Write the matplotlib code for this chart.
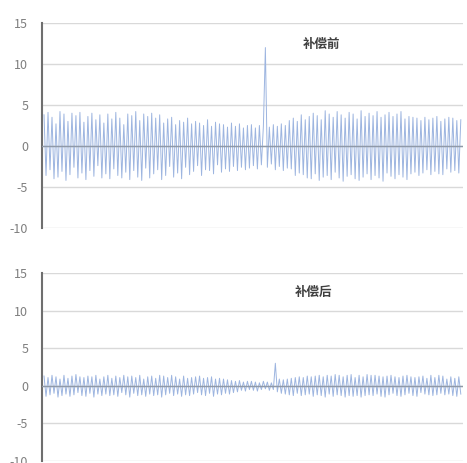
import numpy as np
import matplotlib
matplotlib.use('Agg')
import matplotlib.pyplot as plt

plt.rcParams['font.family'] = ['Noto Sans CJK SC', 'DejaVu Sans']
plt.rcParams['axes.unicode_minus'] = False

# signal before compensation
before = [
    3.8, -3.6, 4.1, -2.9, 3.5, -4.0, 2.7, -3.8, 4.2, -3.1, 3.9, -4.2, 3.0, -3.5, 4.0,
    -2.6, 3.7, -3.9, 4.1, -3.3, 2.9, -4.1, 3.6, -3.0, 4.0, -3.7, 3.2, -2.4, 3.8, -3.9,
    2.8, -3.4, 3.9, -4.0, 3.3, -2.8, 4.1, -3.6, 3.4, -3.9, 2.6, -3.2, 3.9, -4.1, 3.7,
    -3.0, 4.2, -3.8, 3.1, -4.2, 3.9, -2.7, 3.6, -3.9, 4.0, -3.4, 3.4, -2.9, 3.8, -4.1,
    2.8, -3.6, 3.3, -2.5, 3.5, -3.8, 2.6, -3.3, 3.1, -4.0, 2.9, -2.6, 3.4, -3.5, 2.7,
    -3.1, 3.0, -2.4, 2.8, -3.6, 2.5, -2.9, 3.2, -3.0, 2.4, -3.4, 2.9, -2.3, 2.7, -3.2,
    2.6, -2.8, 2.3, -3.1, 2.8, -2.5, 2.4, -3.0, 2.7, -2.6, 2.2, -2.9, 2.5, -2.7, 2.6,
    -2.4, 2.2, -2.8, 2.5, -2.3, 2.4, 12.0, -2.6, 2.3, -2.2, 2.6, -2.9, 2.4, -2.5, 2.7,
    -3.0, 2.5, -2.7, 3.1, -2.8, 3.4, -3.6, 3.0, -3.3, 3.8, -3.5, 3.2, -3.9, 3.6, -4.0,
    4.0, -3.4, 3.7, -4.2, 3.2, -3.8, 4.3, -3.6, 3.9, -4.1, 3.5, -3.2, 4.2, -3.9, 3.8,
    -4.3, 3.4, -3.7, 4.1, -3.5, 3.9, -4.0, 3.3, -4.2, 4.3, -3.8, 3.6, -3.4, 4.0, -4.1,
    3.7, -3.6, 4.2, -3.9, 3.5, -4.3, 3.8, -3.3, 4.1, -3.7, 3.6, -4.0, 3.9, -3.5, 4.2,
    -3.8, 3.3, -4.1, 3.6, -3.4, 3.5, -3.2, 3.4, -3.6, 3.1, -3.3, 3.5, -2.9, 3.2, -3.5,
    3.4, -3.1, 3.6, -3.4, 3.0, -3.5, 3.3, -2.8, 3.5, -3.2, 3.4, -3.0, 3.1, -3.3, 3.2,
]

# signal after compensation
after = [
    1.3, -1.4, 1.1, -1.2, 1.4, -1.0, 1.2, -1.5, 0.9, -1.3, 1.4, -1.1, 1.0, -1.4, 1.3,
    -1.2, 1.5, -0.9, 1.2, -1.3, 1.1, -1.4, 1.3, -1.0, 1.2, -1.5, 1.4, -1.1, 0.9, -1.3,
    1.2, -1.1, 1.4, -1.3, 1.0, -1.2, 1.3, -1.4, 1.1, -0.9, 1.4, -1.2, 1.2, -1.5, 1.3,
    -1.0, 1.1, -1.3, 1.4, -1.2, 0.9, -1.4, 1.2, -1.1, 1.3, -1.3, 1.0, -1.2, 1.4, -1.5,
    1.3, -1.2, 1.1, -1.0, 1.4, -1.3, 1.2, -1.1, 0.9, -1.4, 1.3, -1.2, 1.0, -1.3, 1.1,
    -1.1, 1.2, -0.9, 1.3, -1.2, 1.0, -1.3, 1.1, -1.0, 1.2, -1.4, 0.9, -1.1, 1.0, -1.2,
    0.9, -1.0, 0.8, -1.1, 0.7, -0.9, 0.6, -0.8, 0.7, -0.6, 0.5, -0.7, 0.6, -0.5, 0.6,
    -0.6, 0.5, -0.7, 0.4, -0.5, 0.6, -0.4, 0.5, -0.6, 0.4, -0.5, 3.0, -0.8, 0.9, -1.0,
    0.8, -1.1, 0.9, -1.2, 1.0, -1.3, 1.1, -1.0, 1.2, -1.3, 1.1, -1.2, 1.3, -1.1, 1.2,
    -1.4, 1.3, -1.2, 1.4, -1.3, 1.2, -1.5, 1.4, -1.1, 1.3, -1.4, 1.5, -1.2, 1.4, -1.3,
    1.2, -1.5, 1.4, -1.3, 1.5, -1.4, 1.1, -1.3, 1.4, -1.5, 1.2, -1.3, 1.5, -1.2, 1.4,
    -1.3, 1.4, -1.1, 1.3, -1.4, 1.2, -1.5, 1.3, -1.2, 1.4, -1.0, 1.2, -1.3, 1.1, -1.4,
    1.3, -1.2, 1.4, -1.0, 1.2, -1.3, 1.1, -1.4, 1.2, -0.9, 1.3, -1.1, 1.0, -1.2, 1.4,
    -1.3, 1.1, -1.2, 1.4, -1.0, 1.3, -1.2, 0.9, -1.1, 1.2, -1.3, 1.0, -1.4, 1.2, -1.1,
]

titles = ["补偿前", "补偿后"]
yticks = [-10, -5, 0, 5, 10, 15]

fig = plt.figure(figsize=(4.67, 4.63), dpi=100)
ax_top = fig.add_axes([0.09, 0.5076, 0.901, 0.4428])
ax_bot = fig.add_axes([0.09, 0.0043, 0.901, 0.406])

for ax, data, title, tx, ty in [(ax_top, before, titles[0], 0.665, 0.893),
                                (ax_bot, after, titles[1], 0.644, 0.899)]:
    x = np.arange(len(data))
    ax.plot(x, data, color='#9db5e0', lw=0.7)
    ax.set_xlim(-1, len(data))
    ax.set_ylim(-10, 15)
    ax.set_yticks(yticks)
    ax.set_xticks([])
    for y in yticks:
        ax.axhline(y, color='#d9d9d9', lw=1, zorder=0)
    ax.axhline(0, color='#8f99a8', lw=1, zorder=3)
    for s in ['top', 'right', 'bottom']:
        ax.spines[s].set_visible(False)
    ax.spines['left'].set_color('#6f6f6f')
    ax.spines['left'].set_linewidth(1.5)
    ax.tick_params(axis='y', length=0, pad=10, labelsize=9, labelcolor='#7f7f7f')
    ax.text(tx, ty, title, transform=ax.transAxes,
            ha='center', va='center', fontsize=9, color='#404040', fontweight='bold')

fig.savefig('out.png', dpi=100)
